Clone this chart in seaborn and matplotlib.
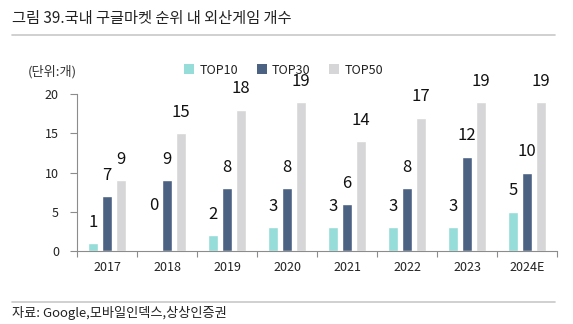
import matplotlib
matplotlib.use("Agg")
import matplotlib.pyplot as plt
import seaborn as sns
import pandas as pd
from matplotlib.patches import Patch
from matplotlib.lines import Line2D

years = ["2017", "2018", "2019", "2020", "2021", "2022", "2023", "2024E"]
series_names = ["TOP10", "TOP30", "TOP50"]
top10 = [1, 0, 2, 3, 3, 3, 3, 5]
top30 = [7, 9, 8, 8, 6, 8, 12, 10]
top50 = [9, 15, 18, 19, 14, 17, 19, 19]
colors = ["#96DCD8", "#4B6283", "#D6D6D8"]

sns.set_theme(style="white")
plt.rcParams["font.family"] = ["Noto Sans CJK KR", "DejaVu Sans"]

rows = []
for name, vals in zip(series_names, [top10, top30, top50]):
    for y, v in zip(years, vals):
        rows.append({"year": y, "series": name, "value": v})
df = pd.DataFrame(rows)

fig = plt.figure(figsize=(5.73, 3.24), dpi=100)
ax = fig.add_axes([77 / 573, 1 - 251 / 324, 480 / 573, 157 / 324])

sns.barplot(data=df, x="year", y="value", hue="series", order=years,
            hue_order=series_names, palette=colors, width=0.68, gap=0.26,
            ax=ax, legend=False, saturation=1)

ax.set_ylim(0, 20)
ax.set_xlim(-0.5, 7.5)
ax.set_yticks([0, 5, 10, 15, 20])
ax.set_xlabel("")
ax.set_ylabel("")
for s in ["top", "right"]:
    ax.spines[s].set_visible(False)
for s in ["left", "bottom"]:
    ax.spines[s].set_color("#8C8C8C")
    ax.spines[s].set_linewidth(0.8)
ax.tick_params(axis="y", which="major", direction="out", length=5, width=0.8,
               color="#8C8C8C", labelsize=9, labelcolor="#222222", pad=8, left=True)
ax.tick_params(axis="x", which="major", length=0, labelsize=9,
               labelcolor="#222222", pad=7)
ax.set_xticks([i + 0.5 for i in range(-1, len(years))], minor=True)
ax.tick_params(axis="x", which="minor", direction="out", length=4, width=0.8,
               color="#8C8C8C", bottom=True)

for cont in ax.containers:
    for bar in cont:
        h = bar.get_height()
        off = 33 if h == 0 else 15
        ax.annotate(f"{int(round(h))}", (bar.get_x() + bar.get_width() / 2, h),
                    xytext=(0, off), textcoords="offset points",
                    ha="center", va="center", fontsize=12, color="#111111",
                    annotation_clip=False)

handles = [Patch(facecolor=c, edgecolor="none") for c in colors]
fig.legend(handles, series_names, loc="center", bbox_to_anchor=(0.495, 1 - 70 / 324),
           ncol=3, frameon=False, fontsize=9, handlelength=0.8, handleheight=0.8,
           handletextpad=0.4, columnspacing=1.5, labelcolor="#222222")

fig.text(28 / 573, 1 - 72 / 324, "(단위:개)", fontsize=9.5, color="#333333",
         va="center", ha="left")

fig.text(12 / 573, 1 - 18 / 324, "그림 39.국내 구글마켓 순위 내 외산게임 개수",
         fontsize=11, color="#222222", va="center", ha="left")
fig.add_artist(Line2D([12 / 573, 555 / 573], [1 - 35 / 324] * 2,
                      color="#C8C8C8", linewidth=1.2, transform=fig.transFigure))
fig.add_artist(Line2D([12 / 573, 555 / 573], [1 - 302 / 324] * 2,
                      color="#C8C8C8", linewidth=1.2, transform=fig.transFigure))
fig.text(12 / 573, 1 - 313 / 324, "자료: Google,모바일인덱스,상상인증권",
         fontsize=9.5, color="#222222", va="center", ha="left")

fig.savefig("out.png", dpi=100)
